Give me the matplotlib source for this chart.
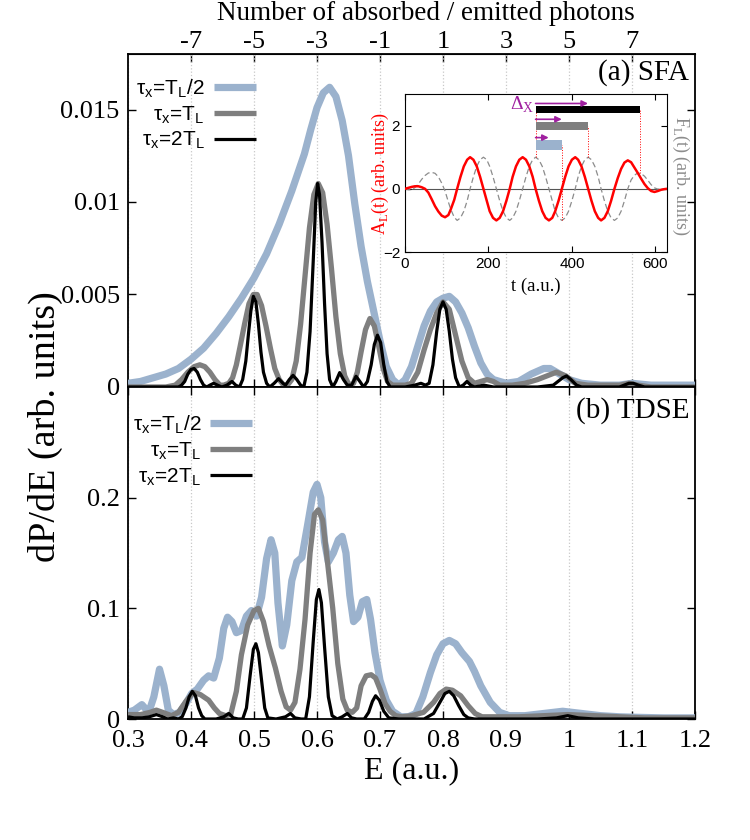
import numpy as np
import matplotlib
matplotlib.use('Agg')
import matplotlib.pyplot as plt
from matplotlib.lines import Line2D
from matplotlib.ticker import FuncFormatter, FixedLocator

# ---------------- data: panel (a) SFA ----------------
E_a_blue = [0.30, 0.32, 0.34, 0.36, 0.38, 0.40, 0.42, 0.44, 0.46, 0.48, 0.50, 0.52, 0.54, 0.56,
            0.58, 0.59, 0.60, 0.61, 0.62, 0.63, 0.64, 0.65, 0.66, 0.67, 0.68, 0.69, 0.70, 0.71,
            0.72, 0.73, 0.74, 0.75, 0.76, 0.77, 0.78, 0.79, 0.80, 0.81, 0.82, 0.83, 0.84, 0.85,
            0.86, 0.87, 0.88, 0.90, 0.92, 0.94, 0.96, 0.97, 0.98, 1.00, 1.02, 1.05, 1.08, 1.10,
            1.13, 1.20]
P_a_blue = [0.0002, 0.0003, 0.0005, 0.0007, 0.0010, 0.0015, 0.0021, 0.0029, 0.0038, 0.0048,
            0.0059, 0.0072, 0.0088, 0.0106, 0.0126, 0.0139, 0.0151, 0.0159, 0.0162, 0.0157,
            0.0144, 0.0125, 0.0099, 0.0076, 0.0057, 0.0041, 0.0025, 0.0011, 0.0004, 0.0001,
            0.0004, 0.0011, 0.0022, 0.0033, 0.0041, 0.0046, 0.0048, 0.0049, 0.0046, 0.0040,
            0.0032, 0.0022, 0.0013, 0.0007, 0.0004, 0.0002, 0.0003, 0.0007, 0.0010, 0.0010,
            0.0008, 0.0004, 0.0002, 0.0001, 0.0001, 0.0002, 0.0001, 0.0001]

E_a_gray = [0.30, 0.36, 0.375, 0.385, 0.395, 0.405, 0.414, 0.422, 0.43, 0.438, 0.446, 0.452,
            0.46, 0.466, 0.472, 0.478, 0.485, 0.492, 0.499, 0.505, 0.512, 0.519, 0.526, 0.533,
            0.54, 0.547, 0.553, 0.56, 0.567, 0.574, 0.581, 0.588, 0.595, 0.602, 0.609, 0.616,
            0.623, 0.63, 0.637, 0.644, 0.651, 0.658, 0.664, 0.67, 0.677, 0.684, 0.691, 0.698,
            0.705, 0.712, 0.72, 0.74, 0.75, 0.76, 0.77, 0.78, 0.79, 0.80, 0.81, 0.82, 0.83,
            0.84, 0.85, 0.86, 0.87, 0.88, 0.89, 0.91, 0.93, 0.95, 0.965, 0.98, 0.995, 1.01,
            1.03, 1.06, 1.08, 1.095, 1.11, 1.13, 1.20]
P_a_gray = [0.0, 0.0, 0.0001, 0.0004, 0.0008, 0.0011, 0.0012, 0.0011, 0.0008, 0.0004, 0.0001,
            0.0001, 0.0002, 0.0005, 0.0012, 0.0022, 0.0034, 0.0045, 0.0050, 0.0050, 0.0044,
            0.0033, 0.0021, 0.0010, 0.0004, 0.0001, 0.0001, 0.0004, 0.0014, 0.0034, 0.0060,
            0.0086, 0.0104, 0.0110, 0.0105, 0.0088, 0.0064, 0.0038, 0.0018, 0.0006, 0.0001,
            0.0002, 0.0008, 0.0019, 0.0031, 0.0037, 0.0033, 0.0022, 0.0010, 0.0003, 0.0001,
            0.0001, 0.0002, 0.0008, 0.0020, 0.0031, 0.0040, 0.0046, 0.0042, 0.0028, 0.0014,
            0.0005, 0.0002, 0.0003, 0.0004, 0.0003, 0.0001, 0.0001, 0.0002, 0.0004, 0.0006,
            0.0008, 0.0006, 0.0002, 0.0001, 0.0001, 0.0001, 0.0002, 0.0001, 0.0, 0.0]

E_a_black = [0.30, 0.38, 0.385, 0.39, 0.395, 0.40, 0.405, 0.41, 0.415, 0.42, 0.425, 0.43,
             0.436, 0.442, 0.449, 0.457, 0.465, 0.471, 0.477, 0.482, 0.487, 0.491, 0.495,
             0.499, 0.503, 0.507, 0.511, 0.515, 0.52, 0.525, 0.532, 0.539, 0.546, 0.55, 0.556,
             0.562, 0.568, 0.574, 0.579, 0.584, 0.589, 0.594, 0.598, 0.601, 0.604, 0.608,
             0.612, 0.616, 0.62, 0.625, 0.63, 0.636, 0.642, 0.648, 0.655, 0.662, 0.668, 0.674,
             0.68, 0.686, 0.691, 0.696, 0.701, 0.706, 0.711, 0.716, 0.74, 0.755, 0.765, 0.772,
             0.778, 0.784, 0.79, 0.795, 0.80, 0.805, 0.81, 0.815, 0.82, 0.826, 0.832, 0.838,
             0.844, 0.85, 0.865, 0.88, 0.95, 0.975, 0.99, 0.996, 1.003, 1.012, 1.02, 1.08,
             1.095, 1.102, 1.11, 1.12, 1.20]
P_a_black = [0.0, 0.0, 0.0001, 0.0003, 0.0007, 0.00095, 0.0010, 0.0008, 0.0004, 0.0001, 0.0,
             0.0001, 0.0002, 0.0001, 0.0, 0.0001, 0.0003, 0.0001, 0.0, 0.0004, 0.0014, 0.0028,
             0.0041, 0.0049, 0.0046, 0.0034, 0.0019, 0.0008, 0.0002, 0.0, 0.0002, 0.00045,
             0.0002, 0.0001, 0.0004, 0.00063, 0.0004, 0.0001, 0.0, 0.0008, 0.0030, 0.0068,
             0.0100, 0.0110, 0.0104, 0.0078, 0.0045, 0.0018, 0.0004, 0.0, 0.0003, 0.00078,
             0.0004, 0.0001, 0.0001, 0.00058, 0.0003, 0.0, 0.0003, 0.0012, 0.0023, 0.0028,
             0.0024, 0.0012, 0.0003, 0.0, 0.0, 0.0001, 0.0002, 0.0001, 0.0002, 0.0012, 0.0030,
             0.0042, 0.0046, 0.0042, 0.0030, 0.0015, 0.0005, 0.0, 0.0001, 0.0003, 0.0001, 0.0,
             0.0001, 0.0, 0.0, 0.0001, 0.0005, 0.0006, 0.0004, 0.0001, 0.0, 0.0, 0.0002,
             0.0002, 0.0001, 0.0, 0.0]

# ---------------- data: panel (b) TDSE ----------------
E_b_blue = [0.30, 0.31, 0.322, 0.333, 0.341, 0.35, 0.357, 0.364, 0.372, 0.382, 0.392, 0.401,
            0.41, 0.42, 0.428, 0.436, 0.445, 0.452, 0.458, 0.465, 0.472, 0.48, 0.488, 0.496,
            0.504, 0.512, 0.52, 0.527, 0.533, 0.538, 0.545, 0.552, 0.56, 0.568, 0.576, 0.585,
            0.594, 0.600, 0.606, 0.612, 0.618, 0.626, 0.634, 0.64, 0.646, 0.652, 0.658, 0.665,
            0.672, 0.679, 0.685, 0.692, 0.70, 0.71, 0.72, 0.733, 0.745, 0.757, 0.768, 0.78,
            0.79, 0.80, 0.81, 0.82, 0.83, 0.842, 0.85, 0.86, 0.875, 0.89, 0.905, 0.93, 0.96,
            0.99, 1.02, 1.05, 1.08, 1.11, 1.15, 1.20]
P_b_blue = [0.006, 0.008, 0.013, 0.006, 0.020, 0.045, 0.030, 0.008, 0.004, 0.006, 0.014, 0.023,
            0.027, 0.035, 0.039, 0.037, 0.055, 0.082, 0.092, 0.088, 0.078, 0.080, 0.093, 0.098,
            0.093, 0.110, 0.145, 0.162, 0.150, 0.105, 0.066, 0.085, 0.125, 0.142, 0.146, 0.175,
            0.205, 0.212, 0.200, 0.160, 0.142, 0.150, 0.162, 0.165, 0.150, 0.112, 0.088, 0.092,
            0.106, 0.108, 0.090, 0.060, 0.035, 0.017, 0.007, 0.002, 0.002, 0.005, 0.020, 0.042,
            0.058, 0.068, 0.071, 0.068, 0.060, 0.052, 0.043, 0.030, 0.015, 0.006, 0.003, 0.003,
            0.005, 0.007, 0.005, 0.003, 0.002, 0.0015, 0.001, 0.001]

E_b_gray = [0.30, 0.32, 0.335, 0.345, 0.355, 0.369, 0.38, 0.392, 0.404, 0.415, 0.428, 0.437,
            0.445, 0.455, 0.463, 0.472, 0.48, 0.49, 0.50, 0.507, 0.515, 0.524, 0.534, 0.543,
            0.551, 0.558, 0.565, 0.573, 0.581, 0.589, 0.596, 0.602, 0.609, 0.617, 0.625, 0.633,
            0.641, 0.648, 0.656, 0.663, 0.670, 0.678, 0.686, 0.693, 0.70, 0.708, 0.716, 0.725,
            0.735, 0.75, 0.769, 0.785, 0.795, 0.805, 0.815, 0.828, 0.84, 0.851, 0.862, 0.875,
            0.92, 0.96, 0.998, 1.04, 1.08, 1.12, 1.20]
P_b_gray = [0.004, 0.004, 0.006, 0.008, 0.006, 0.003, 0.006, 0.016, 0.024, 0.022, 0.017, 0.010,
            0.005, 0.003, 0.004, 0.025, 0.058, 0.085, 0.098, 0.100, 0.088, 0.066, 0.046, 0.025,
            0.011, 0.008, 0.015, 0.045, 0.090, 0.150, 0.185, 0.189, 0.180, 0.140, 0.100, 0.050,
            0.018, 0.008, 0.006, 0.010, 0.030, 0.039, 0.040, 0.037, 0.027, 0.014, 0.007, 0.003,
            0.002, 0.003, 0.006, 0.015, 0.023, 0.027, 0.026, 0.021, 0.012, 0.005, 0.002, 0.002,
            0.002, 0.003, 0.004, 0.003, 0.002, 0.001, 0.001]

E_b_black = [0.30, 0.31, 0.322, 0.334, 0.345, 0.355, 0.363, 0.372, 0.38, 0.386, 0.392, 0.397,
             0.402, 0.407, 0.412, 0.417, 0.422, 0.44, 0.452, 0.46, 0.467, 0.475, 0.482, 0.488,
             0.494, 0.499, 0.503, 0.507, 0.512, 0.517, 0.522, 0.535, 0.55, 0.558, 0.565, 0.575,
             0.582, 0.588, 0.594, 0.599, 0.603, 0.607, 0.612, 0.618, 0.624, 0.632, 0.64, 0.648,
             0.655, 0.663, 0.675, 0.682, 0.688, 0.693, 0.699, 0.706, 0.714, 0.73, 0.77, 0.785,
             0.795, 0.803, 0.81, 0.817, 0.825, 0.833, 0.84, 0.85, 0.95, 0.98, 0.998, 1.015,
             1.04, 1.20]
P_b_black = [0.002, 0.001, 0.001, 0.002, 0.004, 0.002, 0.0, 0.001, 0.0, 0.002, 0.010, 0.020,
             0.025, 0.021, 0.010, 0.003, 0.0, 0.0, 0.002, 0.005, 0.001, 0.0, 0.0, 0.010, 0.040,
             0.063, 0.068, 0.060, 0.035, 0.010, 0.001, 0.0, 0.002, 0.005, 0.001, 0.0, 0.0,
             0.020, 0.070, 0.108, 0.117, 0.105, 0.065, 0.020, 0.003, 0.0, 0.002, 0.005, 0.001,
             0.0, 0.0, 0.006, 0.016, 0.021, 0.017, 0.007, 0.001, 0.0, 0.0, 0.005, 0.015, 0.023,
             0.025, 0.021, 0.012, 0.004, 0.001, 0.0, 0.0, 0.001, 0.003, 0.001, 0.0, 0.0]

# ---------------- data: inset (laser pulse) ----------------
t_field = [0, 8, 16, 24, 32, 40, 48, 56, 64, 72, 80, 88, 96, 104, 110, 118,
           125, 133, 141, 149, 156, 164, 172, 180, 188, 196, 203, 211, 219, 227, 235, 243,
           251, 258, 266, 274, 282, 290, 298, 306, 313, 321, 329, 337, 345, 353, 360, 368,
           376, 384, 392, 400, 408, 415, 423, 431, 439, 447, 455, 463, 470, 478, 486, 494,
           502,
           510, 518, 526, 534, 542, 550, 558, 566, 574, 582, 590, 598, 606, 614, 622, 628]
A_L = [0, 0.03, 0.06, 0.08, 0.08, 0.05, 0.0, -0.12, -0.33, -0.55, -0.72, -0.85, -0.9, -0.83, -0.64, -0.35,
       0, .38, .71, .92, 1, .92, .71, .38, 0, -.38, -.71, -.92, -1, -.92, -.71, -.38,
       0, .38, .71, .92, 1, .92, .71, .38, 0, -.38, -.71, -.92, -1, -.92, -.71, -.38,
       0, .38, .71, .92, 1, .92, .71, .38, 0, -.38, -.71, -.92, -1, -.92, -.71, -.38,
       0,
       0.34, 0.63, 0.83, 0.9, 0.84, 0.67, 0.5, 0.32, 0.15, 0.02, -0.07, -0.1, -0.07, -0.03, -0.01, 0]
F_L = [0, -0.03, -0.03, 0.04, 0.15, 0.3, 0.42, 0.5, 0.52, 0.49, 0.38, 0.18, -0.07, -0.42, -0.66, -0.9,
       -1, -.92, -.71, -.38, 0, .38, .71, .92, 1, .92, .71, .38, 0, -.38, -.71, -.92,
       -1, -.92, -.71, -.38, 0, .38, .71, .92, 1, .92, .71, .38, 0, -.38, -.71, -.92,
       -1, -.92, -.71, -.38, 0, .38, .71, .92, 1, .92, .71, .38, 0, -.38, -.71, -.92,
       -1,
       -0.92, -0.71, -0.38, 0, 0.28, 0.43, 0.5, 0.48, 0.4, 0.27, 0.13, 0.03, -0.01, 0, 0, 0]

t_start = 313
tau_x = [62.8, 125.6, 251.2]          # T_L/2, T_L, 2T_L
bar_level = [1.39, 2.0, 2.5]
arrow_level = [1.62, 2.2, 2.7]

photon_numbers = [-7, -5, -3, -1, 1, 3, 5, 7]
legend_labels = ['τ$_\\mathregular{x}$=T$_\\mathregular{L}$/2',
                 'τ$_\\mathregular{x}$=T$_\\mathregular{L}$',
                 'τ$_\\mathregular{x}$=2T$_\\mathregular{L}$']

# ---------------- styles ----------------
C_BLUE = '#9bb2cd'
C_GRAY = '#7f7f7f'
C_BLACK = '#000000'
C_PURPLE = '#a020a0'
colors = [C_BLUE, C_GRAY, C_BLACK]
widths = [5.2, 3.8, 2.3]
SERIF = 'Liberation Serif'
SANS = 'Liberation Sans'
TICK_FS = 19

plt.rcParams['font.family'] = SERIF
plt.rcParams['mathtext.fontset'] = 'custom'
plt.rcParams['mathtext.rm'] = SERIF

fig = plt.figure(figsize=(7.5, 8.4), dpi=100)
W, H = 750.0, 840.0
L, R = 128 / W, 695 / W
axa = fig.add_axes([L, 1 - 387 / H, R - L, (387 - 54) / H])
axb = fig.add_axes([L, 1 - 719 / H, R - L, (719 - 387) / H])

fmt = FuncFormatter(lambda v, p: '%g' % v)

def setup(ax):
    ax.set_xlim(0.3, 1.2)
    ax.xaxis.set_major_locator(FixedLocator([0.3, 0.4, 0.5, 0.6, 0.7, 0.8, 0.9, 1.0, 1.1, 1.2]))
    ax.grid(axis='x', color='#c8c8c8', linestyle=':', linewidth=0.9)
    ax.tick_params(direction='in', length=6, width=1, labelsize=TICK_FS, right=True)
    ax.tick_params(axis='y', pad=6)
    ax.tick_params(axis='x', pad=8)
    ax.yaxis.set_major_formatter(fmt)
    ax.xaxis.set_major_formatter(fmt)
    for s in ax.spines.values():
        s.set_linewidth(1.3)

for ax, data in [(axa, [(E_a_blue, P_a_blue), (E_a_gray, P_a_gray), (E_a_black, P_a_black)]),
                 (axb, [(E_b_blue, P_b_blue), (E_b_gray, P_b_gray), (E_b_black, P_b_black)])]:
    setup(ax)
    for (x, y), c, lw in zip(data, colors, widths):
        ax.plot(x, y, color=c, lw=lw, solid_joinstyle='round', solid_capstyle='butt', zorder=3)

axa.set_ylim(0, 0.018)
axa.set_yticks([0, 0.005, 0.01, 0.015])
axa.tick_params(axis='x', labelbottom=False, top=False)
axb.set_ylim(0, 0.3)
axb.set_yticks([0, 0.1, 0.2])
axb.tick_params(axis='x', top=True)
axb.set_xlabel('E (a.u.)', fontsize=23, labelpad=3)

# top axis: photon numbers
sec = axa.secondary_xaxis('top', functions=(lambda e: (np.asarray(e) - 0.75) / 0.05,
                                             lambda n: 0.75 + 0.05 * np.asarray(n)))
sec.set_xticks(photon_numbers)
sec.set_xticklabels([str(n) for n in photon_numbers])
sec.tick_params(direction='in', length=6, width=1, labelsize=TICK_FS, pad=1)
fig.text(426 / W, 1 - 14 / H, 'Number of absorbed / emitted photons', ha='center',
         va='center', fontsize=19.5)

fig.text(45 / W, 1 - 427 / H, 'dP/dE (arb. units)', rotation=90, ha='center', va='center',
         fontsize=27.5)

axa.text(0.99, 0.985, '(a) SFA', transform=axa.transAxes, ha='right', va='top', fontsize=21)
axb.text(0.99, 0.97, '(b) TDSE', transform=axb.transAxes, ha='right', va='top', fontsize=21)

# legends
handles = [Line2D([], [], color=c, lw=lw, solid_capstyle='butt') for c, lw in zip(colors, widths)]
for ax, anchor in [(axa, (0.014, 0.93)), (axb, (0.008, 0.92))]:
    leg = ax.legend(handles, legend_labels, loc='upper left', bbox_to_anchor=anchor,
                    frameon=False, markerfirst=False, handlelength=2.0, handletextpad=0.45,
                    labelspacing=0.2, borderpad=0, borderaxespad=0,
                    prop={'family': SANS, 'size': 15})
    for col in leg._legend_handle_box.get_children():
        col.align = 'right'

# ---------------- inset ----------------
axi = fig.add_axes([405 / W, 1 - 252 / H, 262 / W, 158 / H])
axi.set_xlim(0, 628)
axi.set_ylim(-2, 3)
axi.axhline(0, color='#555555', lw=0.8, zorder=1)
axi.plot(t_field, F_L, color='#8c8c8c', lw=0.9, ls=(0, (4.5, 2.5)), zorder=2)
axi.plot(t_field, A_L, color='red', lw=1.8, zorder=3)
axi.set_xticks([0, 200, 400, 600])
axi.set_yticks([-2, 0, 2])
axi.tick_params(direction='in', length=4, labelsize=11, top=True, right=True)
for lab in axi.get_xticklabels() + axi.get_yticklabels():
    lab.set_family(SANS)
axi.set_xlabel('t (a.u.)', fontsize=13.5, labelpad=5)
axi.text(-0.092, 0.5, 'A$_\\mathregular{L}$(t) (arb. units)', transform=axi.transAxes,
         rotation=90, ha='center', va='center', color='red', fontsize=13)
axi.text(1.05, 0.48, 'F$_\\mathregular{L}$(t) (arb. units)', transform=axi.transAxes,
         rotation=270, ha='center', va='center', color='#8c8c8c', fontsize=13)

bar_colors = [C_BLUE, C_GRAY, C_BLACK]
bar_heights = [0.30, 0.25, 0.22]
for tau, yb, ya, c, hgt in zip(tau_x, bar_level, arrow_level, bar_colors, bar_heights):
    axi.barh(yb, tau, left=t_start, height=hgt, color=c, zorder=4)
    axi.annotate('', xy=(t_start + tau / 2, ya), xytext=(t_start, ya),
                 arrowprops=dict(arrowstyle='-|>', color=C_PURPLE, lw=1.2,
                                 mutation_scale=9, shrinkA=0, shrinkB=0), zorder=5)
    t_end = t_start + tau
    axi.vlines(t_end, np.interp(t_end, t_field, F_L), yb, colors='red', linestyles=':', lw=0.7,
               zorder=2)
axi.vlines(t_start, np.interp(t_start, t_field, F_L), bar_level[-1], colors='red',
           linestyles=':', lw=0.7, zorder=2)
axi.text(t_start - 3, arrow_level[-1] - 0.05, 'Δ$_\\mathregular{X}$', color=C_PURPLE,
         fontsize=14, ha='right', va='center')

fig.savefig('out.png', dpi=100)
